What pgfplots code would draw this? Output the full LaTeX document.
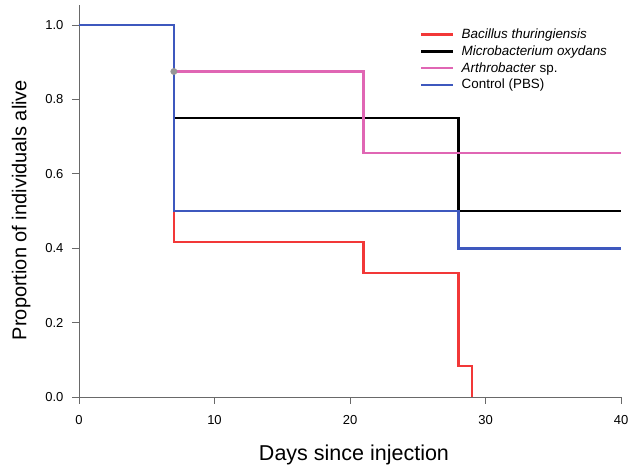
\documentclass[border=0pt]{standalone}
\usepackage{pgfplots}
\pgfplotsset{compat=1.18}
\usepackage{fontspec}
\setmainfont{Liberation Sans}
\definecolor{cred}{RGB}{242,56,56}
\definecolor{cpink}{RGB}{224,102,180}
\definecolor{cblue}{RGB}{62,88,190}
\definecolor{caxis}{RGB}{105,105,105}
\definecolor{cdot}{RGB}{150,150,150}
\begin{document}
\begin{tikzpicture}[x=1pt,y=1pt]
\useasboundingbox (-79pt,-68pt) rectangle (552pt,397pt);
\begin{axis}[
  scale only axis, width=542pt, height=392pt,
  at={(0pt,0pt)}, anchor=south west,
  xmin=0, xmax=40, ymin=0, ymax=1.0538,
  axis x line*=bottom, axis y line*=left,
  axis line style={caxis, line width=0.8pt, -},
  every tick/.style={caxis, line width=0.8pt},
  tick align=outside, major tick length=7pt,
  xtick={0,10,20,30,40}, ytick={0,0.2,0.4,0.6,0.8,1.0},
  yticklabel style={/pgf/number format/fixed, /pgf/number format/fixed zerofill, /pgf/number format/precision=1, xshift=-5pt},
  /pgf/number format/assume math mode=true,
  ticklabel style={font=\fontsize{13}{15}\selectfont},
  xticklabel style={yshift=-8pt},
  xlabel={Days since injection}, ylabel={Proportion of individuals alive},
  xlabel style={font=\fontsize{21.5}{24}\selectfont, yshift=-13pt, xshift=4pt},
  ylabel style={font=\fontsize{20}{23}\selectfont, yshift=8pt, xshift=-9pt},
  clip=false,
  legend cell align=left,
  legend style={draw=none, fill=none, at={(0.629,0.944)}, anchor=north west,
    font=\fontsize{13.4}{15}\selectfont, row sep=1.5pt, column sep=5pt, inner sep=0pt},
  legend image code/.code={\draw[#1, line width=2.6pt] (0pt,0pt) -- (32pt,0pt);},
]
\addplot[const plot, cred, line width=2.6pt] coordinates {(0,1) (7,0.4167) (21,0.3333) (28,0.0833) (29,0)};
\addlegendentry{\textit{Bacillus thuringiensis}}
\addplot[const plot, black, line width=2.6pt] coordinates {(0,1) (7,0.75) (28,0.5) (40,0.5)};
\addlegendentry{\textit{Microbacterium oxydans}}
\addplot[const plot, cpink, line width=2.6pt] coordinates {(0,1) (7,0.875) (21,0.65625) (40,0.65625)};
\addlegendentry{\textit{Arthrobacter} sp.}
\addplot[const plot, cblue, line width=2.6pt] coordinates {(0,1) (7,0.5) (28,0.4) (40,0.4)};
\addlegendentry{Control (PBS)}
\addplot[only marks, mark=*, mark size=3.2pt, mark options={draw=cdot, fill=cdot}, forget plot] coordinates {(7,0.875)};
\end{axis}
\end{tikzpicture}
\end{document}
